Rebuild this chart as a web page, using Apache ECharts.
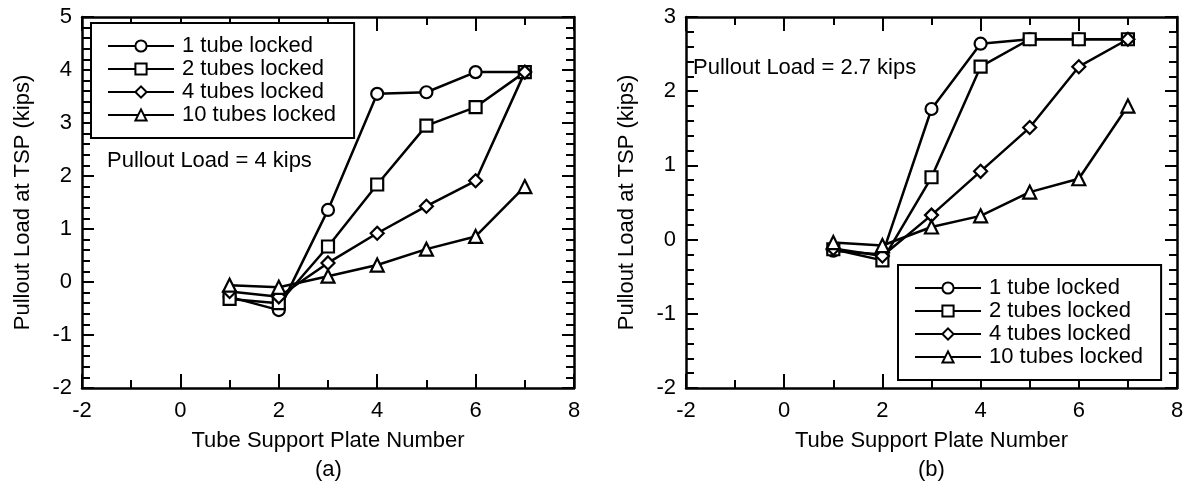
<!DOCTYPE html>
<html>
<head>
<meta charset="utf-8">
<script src="https://cdn.jsdelivr.net/npm/echarts@6/dist/echarts.min.js"></script>
<style>
html,body{margin:0;padding:0;background:#fff;}
#c{width:1189px;height:491px;}
</style>
</head>
<body>
<div id="c"></div>
<script>
// ---- data ----
var plates = [1, 2, 3, 4, 5, 6, 7];
var seriesNames = ['1 tube locked', '2 tubes locked', '4 tubes locked', '10 tubes locked'];
var symbols = ['circle', 'rect', 'diamond', 'triangle'];

// (a) Pullout load = 4 kips
var a1 = [-0.28, -0.53, 1.36, 3.55, 3.58, 3.96, 3.96];
var a2 = [-0.32, -0.40, 0.67, 1.84, 2.95, 3.30, 3.96];
var a4 = [-0.18, -0.28, 0.36, 0.92, 1.43, 1.91, 3.96];
var a10 = [-0.06, -0.10, 0.11, 0.32, 0.62, 0.86, 1.80];

// (b) Pullout load = 2.7 kips
var b1 = [-0.15, -0.20, 1.76, 2.64, 2.70, 2.70, 2.70];
var b2 = [-0.13, -0.28, 0.84, 2.33, 2.70, 2.70, 2.70];
var b4 = [-0.12, -0.22, 0.33, 0.92, 1.51, 2.33, 2.70];
var b10 = [-0.04, -0.08, 0.17, 0.32, 0.64, 0.82, 1.80];

var xTicks = [-2, 0, 2, 4, 6, 8];
var yTicksA = [-2, -1, 0, 1, 2, 3, 4, 5];
var yTicksB = [-2, -1, 0, 1, 2, 3];

var FONT = '"Liberation Sans", Arial, Helvetica, sans-serif';
var FS = 22;

function pairs(vals) {
  return plates.map(function (p, i) { return [p, vals[i]]; });
}

function xAx(grid, pos, showLabel, showName) {
  return {
    type: 'value', gridIndex: grid, position: pos,
    min: xTicks[0], max: xTicks[xTicks.length - 1], interval: 2,
    name: showName ? 'Tube Support Plate Number' : '',
    nameLocation: 'middle', nameGap: 42,
    nameTextStyle: {color: '#000', fontSize: FS, fontFamily: FONT},
    axisLine: {show: true, onZero: false, lineStyle: {color: '#000', width: 2.5}},
    axisTick: {show: true, inside: true, length: 14, lineStyle: {color: '#000', width: 2}},
    minorTick: {show: true, splitNumber: 2, length: 8, lineStyle: {color: '#000', width: 2}},
    axisLabel: {show: showLabel, color: '#000', fontSize: FS, fontFamily: FONT, margin: 12},
    splitLine: {show: false}, minorSplitLine: {show: false}
  };
}
function yAx(grid, pos, ticks, showLabel, showName) {
  return {
    type: 'value', gridIndex: grid, position: pos,
    min: ticks[0], max: ticks[ticks.length - 1], interval: 1,
    name: showName ? 'Pullout Load at TSP (kips)' : '',
    nameLocation: 'middle', nameGap: 48, nameRotate: 90,
    nameTextStyle: {color: '#000', fontSize: FS, fontFamily: FONT},
    axisLine: {show: true, onZero: false, lineStyle: {color: '#000', width: 2.5}},
    axisTick: {show: true, inside: true, length: 12, lineStyle: {color: '#000', width: 2}},
    minorTick: {show: true, splitNumber: 5, length: 8, lineStyle: {color: '#000', width: 2}},
    axisLabel: {show: showLabel, color: '#000', fontSize: FS, fontFamily: FONT, margin: 10},
    splitLine: {show: false}, minorSplitLine: {show: false}
  };
}
function mkSeries(name, sym, vals, xi, yi) {
  return {
    type: 'line', name: name, xAxisIndex: xi, yAxisIndex: yi,
    data: pairs(vals), symbol: sym, symbolSize: sym === 'circle' || sym === 'rect' ? 12 : 13,
    showAllSymbol: true,
    lineStyle: {color: '#000', width: 2.5},
    itemStyle: {color: '#fff', borderColor: '#000', borderWidth: 2.2},
    emphasis: {disabled: true}, animation: false, z: 3
  };
}
function mkLegend(left, top) {
  return {
    left: left, top: top, orient: 'vertical',
    data: seriesNames,
    itemWidth: 66, itemHeight: 14, itemGap: 1,
    padding: [12, 18, 12, 16],
    borderColor: '#000', borderWidth: 2, backgroundColor: '#fff',
    textStyle: {color: '#000', fontSize: FS, fontFamily: FONT, lineHeight: 21, padding: [0, 0, 0, 3]},
    selectedMode: false
  };
}

var dataA = [a1, a2, a4, a10];
var dataB = [b1, b2, b4, b10];
var series = [];
for (var i = 0; i < 4; i++) series.push(mkSeries(seriesNames[i], symbols[i], dataA[i], 0, 0));
for (var j = 0; j < 4; j++) series.push(mkSeries(seriesNames[j], symbols[j], dataB[j], 2, 2));

var option = {
  backgroundColor: '#fff',
  animation: false,
  grid: [
    {left: 82, top: 17, width: 492, height: 371, containLabel: false},
    {left: 686, top: 17, width: 491, height: 371, containLabel: false}
  ],
  xAxis: [
    xAx(0, 'bottom', true, true), xAx(0, 'top', false, false),
    xAx(1, 'bottom', true, true), xAx(1, 'top', false, false)
  ],
  yAxis: [
    yAx(0, 'left', yTicksA, true, true), yAx(0, 'right', yTicksA, false, false),
    yAx(1, 'left', yTicksB, true, true), yAx(1, 'right', yTicksB, false, false)
  ],
  legend: [mkLegend(91, 23), mkLegend(898, 265)],
  graphic: [
    {type: 'text', left: 107, top: 150, style: {text: 'Pullout Load = 4 kips', fill: '#000', font: FS + 'px ' + FONT}},
    {type: 'text', left: 693, top: 57, style: {text: 'Pullout Load = 2.7 kips', fill: '#000', font: FS + 'px ' + FONT}},
    {type: 'text', left: 315, top: 459, style: {text: '(a)', fill: '#000', font: FS + 'px ' + FONT}},
    {type: 'text', left: 918, top: 459, style: {text: '(b)', fill: '#000', font: FS + 'px ' + FONT}}
  ],
  series: series
};

var chart = echarts.init(document.getElementById('c'), null, {renderer: 'canvas'});
chart.setOption(option);
</script>
</body>
</html>
